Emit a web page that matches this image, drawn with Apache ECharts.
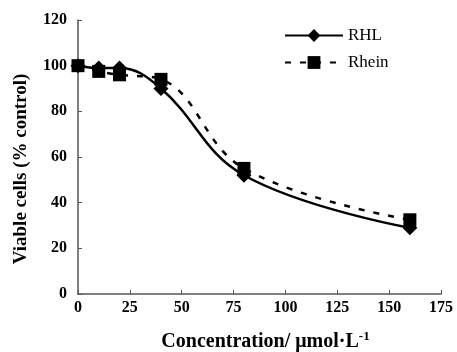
<!DOCTYPE html>
<html>
<head>
<meta charset="utf-8">
<script src="https://cdn.jsdelivr.net/npm/echarts@6/dist/echarts.min.js"></script>
<style>
  html, body { margin: 0; padding: 0; background: #fff; }
  #main { width: 457px; height: 352px; }
</style>
</head>
<body>
<div id="main"></div>
<script>
  // concentrations (umol/L)
  var conc = [0, 10, 20, 40, 80, 160];
  var rhl = [100, 99, 99, 90, 52, 29];
  var rhein = [100, 97.5, 96, 94, 55, 32.5];

  var pairs = function (ys) {
    return conc.map(function (x, i) { return [x, ys[i]]; });
  };

  var font = '"Liberation Serif", "Times New Roman", serif';
  var myChart = echarts.init(document.getElementById('main'));
  var option = {
    animation: false,
    backgroundColor: '#fff',
    textStyle: { fontFamily: font },
    grid: { left: 78, right: 16, top: 20, bottom: 58, outerBoundsMode: 'none' },
    legend: {
      orient: 'vertical',
      left: 279,
      top: 22,
      itemWidth: 58,
      itemHeight: 16,
      itemGap: 10,
      textStyle: { fontFamily: font, fontSize: 17, color: '#000' },
      data: ['RHL', 'Rhein']
    },
    xAxis: {
      type: 'value',
      min: 0, max: 175, interval: 25,
      name: '{a|Concentration/ μmol·L}{s|-1}',
      nameLocation: 'middle',
      nameGap: 36,
      nameTextStyle: {
        padding: [0, 0, 0, 12],
        rich: {
          a: { fontFamily: font, fontSize: 20, fontWeight: 'bold', color: '#000' },
          s: { fontFamily: font, fontSize: 13, fontWeight: 'bold', color: '#000', verticalAlign: 'top', padding: [0, 0, 10, 0] }
        }
      },
      axisLine: { lineStyle: { color: '#555', width: 1.5 } },
      axisTick: { inside: true, length: 4, lineStyle: { color: '#555' } },
      axisLabel: { fontFamily: font, fontSize: 16, fontWeight: 'bold', color: '#000', margin: 6 },
      splitLine: { show: false }
    },
    yAxis: {
      type: 'value',
      min: 0, max: 120, interval: 20,
      name: 'Viable cells (% control)',
      nameLocation: 'middle',
      nameRotate: 90,
      nameGap: 47,
      nameTextStyle: { fontFamily: font, fontSize: 19, fontWeight: 'bold', color: '#000', padding: [0, 24, 0, 0] },
      axisLine: { lineStyle: { color: '#555', width: 1.5 } },
      axisTick: { inside: true, length: 4, lineStyle: { color: '#555' } },
      axisLabel: { fontFamily: font, fontSize: 16, fontWeight: 'bold', color: '#000', margin: 11 },
      splitLine: { show: false }
    },
    series: [
      {
        name: 'RHL',
        type: 'line',
        smooth: 0.4,
        symbol: 'diamond',
        symbolSize: 15,
        itemStyle: { color: '#000' },
        lineStyle: { color: '#000', width: 2.5 },
        data: pairs(rhl)
      },
      {
        name: 'Rhein',
        type: 'line',
        smooth: 0.4,
        symbol: 'rect',
        symbolSize: 13,
        itemStyle: { color: '#000' },
        lineStyle: { color: '#000', width: 2.5, type: [6, 9] },
        data: pairs(rhein)
      }
    ]
  };
  myChart.setOption(option);
</script>
</body>
</html>
